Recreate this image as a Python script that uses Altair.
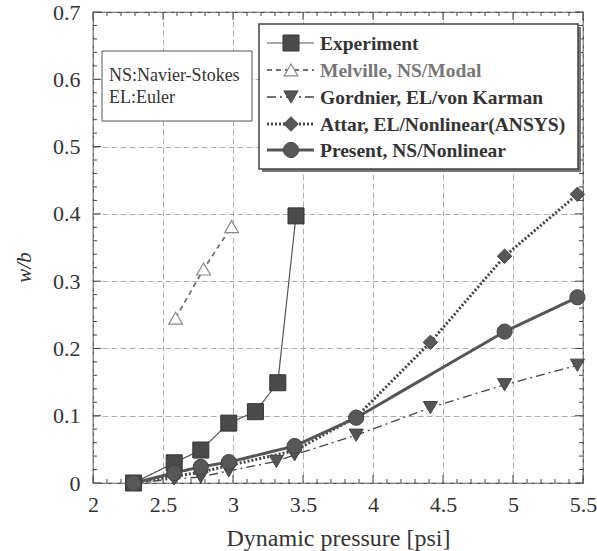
import altair as alt
import pandas as pd

# ---------------- data ----------------
series_names = ["Experiment", "Melville, NS/Modal", "Gordnier, EL/von Karman",
                "Attar, EL/Nonlinear(ANSYS)", "Present, NS/Nonlinear"]

exp_x = [2.29, 2.58, 2.77, 2.97, 3.16, 3.32, 3.45]
exp_y = [0.0, 0.030, 0.049, 0.089, 0.106, 0.149, 0.397]
mel_x = [2.59, 2.79, 2.99]
mel_y = [0.245, 0.318, 0.381]
gor_x = [2.29, 2.58, 2.77, 2.97, 3.31, 3.44, 3.88, 4.41, 4.94, 5.46]
gor_y = [0.0, 0.006, 0.009, 0.018, 0.032, 0.042, 0.071, 0.112, 0.146, 0.175]
att_x = [2.29, 2.58, 2.77, 2.97, 3.44, 3.88, 4.41, 4.94, 5.46]
att_y = [0.0, 0.010, 0.016, 0.026, 0.048, 0.098, 0.209, 0.337, 0.429]
pre_x = [2.29, 2.58, 2.77, 2.97, 3.44, 3.88, 4.94, 5.46]
pre_y = [0.0, 0.015, 0.024, 0.031, 0.055, 0.097, 0.225, 0.276]

x_major = [2, 2.5, 3, 3.5, 4, 4.5, 5, 5.5]
x_minor = [2.1, 2.2, 2.3, 2.4, 2.6, 2.7, 2.8, 2.9, 3.1, 3.2, 3.3, 3.4,
           3.6, 3.7, 3.8, 3.9, 4.1, 4.2, 4.3, 4.4, 4.6, 4.7, 4.8, 4.9,
           5.1, 5.2, 5.3, 5.4]
y_major = [0, 0.1, 0.2, 0.3, 0.4, 0.5, 0.6, 0.7]
y_minor = [0.02, 0.04, 0.06, 0.08, 0.12, 0.14, 0.16, 0.18, 0.22, 0.24, 0.26, 0.28,
           0.32, 0.34, 0.36, 0.38, 0.42, 0.44, 0.46, 0.48, 0.52, 0.54, 0.56, 0.58,
           0.62, 0.64, 0.66, 0.68]
note_lines = ["NS:Navier-Stokes", "EL:Euler"]

series_data = {
    series_names[0]: (exp_x, exp_y),
    series_names[1]: (mel_x, mel_y),
    series_names[2]: (gor_x, gor_y),
    series_names[3]: (att_x, att_y),
    series_names[4]: (pre_x, pre_y),
}

# ---------------- styles ----------------
W, H = 490, 471
FONT = "Liberation Serif"
styles = {
    series_names[0]: dict(line="#555555", lw=1.2, dash=[1, 0], shape="square", size=256,
                          fill="#4a4a4a", stroke="#333333", sw=1, tcol="#333333", tw="bold"),
    series_names[1]: dict(line="#707070", lw=1.8, dash=[5, 4], shape="triangle-up", size=190,
                          fill="#ffffff", stroke="#8a8a8a", sw=1.2, tcol="#777777", tw="bold"),
    series_names[2]: dict(line="#444444", lw=1.3, dash=[9, 4, 2, 4], shape="triangle-down", size=200,
                          fill="#555555", stroke="#444444", sw=1, tcol="#333333", tw="bold"),
    series_names[3]: dict(line="#444444", lw=3, dash=[2, 2], shape="diamond", size=210,
                          fill="#585858", stroke="#444444", sw=1, tcol="#333333", tw="bold"),
    series_names[4]: dict(line="#555555", lw=3, dash=[1, 0], shape="circle", size=230,
                          fill="#585858", stroke="#444444", sw=1, tcol="#333333", tw="bold"),
}

xs = alt.Scale(domain=[2, 5.5], nice=False, zero=False)
ys = alt.Scale(domain=[0, 0.7], nice=False, zero=False)

x_axis = alt.Axis(values=x_major, format="~g", title="Dynamic pressure [psi]", grid=True,
                  gridDash=[6, 3], gridColor="#9a9a9a", gridWidth=0.8, ticks=False, domain=False,
                  labelFont=FONT, labelFontSize=22, labelColor="#333333", labelPadding=11,
                  labelFlush=False, labelOverlap=False,
                  titleFont=FONT, titleFontSize=24, titleFontWeight="normal",
                  titleColor="#333333", titleBaseline="middle", titleY=55)
y_axis = alt.Axis(values=y_major, format="~g", title="w/b", grid=True,
                  gridDash=[6, 3], gridColor="#9a9a9a", gridWidth=0.8, ticks=False, domain=False,
                  labelFont=FONT, labelFontSize=22, labelColor="#333333", labelPadding=13,
                  labelFlush=False, labelOverlap=False,
                  titleFont=FONT, titleFontSize=21, titleFontWeight="normal",
                  titleFontStyle="italic", titleColor="#333333",
                  titleAngle=270, titleBaseline="middle", titleAlign="center",
                  titleX=-69, titleY=255)

X = alt.X("x:Q", scale=xs, axis=x_axis)
Y = alt.Y("y:Q", scale=ys, axis=y_axis)

rows = []
for name in series_names:
    xv, yv = series_data[name]
    for a, b in zip(xv, yv):
        rows.append({"series": name, "x": a, "y": b})
df = pd.DataFrame(rows)

layers = []

# tick marks (inside, on all four sides)
df_xmaj = pd.DataFrame({"x": x_major})
df_xmin = pd.DataFrame({"x": x_minor})
df_ymaj = pd.DataFrame({"y": y_major})
df_ymin = pd.DataFrame({"y": y_minor})
tc = "#444444"
for d, L in ((df_xmaj, 8), (df_xmin, 4)):
    layers.append(alt.Chart(d).mark_rule(color=tc, strokeWidth=1).encode(
        x=X, y=alt.value(H), y2=alt.value(H - L)))
    layers.append(alt.Chart(d).mark_rule(color=tc, strokeWidth=1).encode(
        x=X, y=alt.value(0), y2=alt.value(L)))
for d, L in ((df_ymaj, 8), (df_ymin, 4)):
    layers.append(alt.Chart(d).mark_rule(color=tc, strokeWidth=1).encode(
        y=Y, x=alt.value(0), x2=alt.value(L)))
    layers.append(alt.Chart(d).mark_rule(color=tc, strokeWidth=1).encode(
        y=Y, x=alt.value(W), x2=alt.value(W - L)))

# series lines
line_order = [series_names[1], series_names[2], series_names[3], series_names[0], series_names[4]]
for name in line_order:
    s = styles[name]
    layers.append(alt.Chart(df).transform_filter(alt.datum.series == name).mark_line(
        color=s["line"], strokeWidth=s["lw"], strokeDash=s["dash"]).encode(
        x=X, y=Y, order="x:Q"))
# series markers
point_order = [series_names[2], series_names[3], series_names[0], series_names[4], series_names[1]]
for name in point_order:
    s = styles[name]
    layers.append(alt.Chart(df).transform_filter(alt.datum.series == name).mark_point(
        shape=s["shape"], size=s["size"], filled=True, fill=s["fill"], stroke=s["stroke"],
        strokeWidth=s["sw"], opacity=1, fillOpacity=1).encode(x=X, y=Y))

# note box
one = pd.DataFrame({"k": [0]})
layers.append(alt.Chart(one).mark_rect(fill="white", stroke="#555555", strokeWidth=1).encode(
    x=alt.value(9), x2=alt.value(159), y=alt.value(39), y2=alt.value(109)))
for i, t in enumerate(note_lines):
    layers.append(alt.Chart(one).mark_text(text=t, font=FONT, fontSize=18, color="#333333",
                                           align="left", baseline="middle").encode(
        x=alt.value(16), y=alt.value(64 + 22 * i)))

# legend box with shadow
layers.append(alt.Chart(one).mark_rect(fill="#777777").encode(
    x=alt.value(169), x2=alt.value(488), y=alt.value(15), y2=alt.value(160)))
layers.append(alt.Chart(one).mark_rect(fill="white", stroke="#444444", strokeWidth=1.5).encode(
    x=alt.value(166), x2=alt.value(485), y=alt.value(12), y2=alt.value(157)))

leg_df = pd.DataFrame({"series": series_names})
row_y = [31, 58, 85, 112, 138]
for name, ry in zip(series_names, row_y):
    s = styles[name]
    sub = alt.Chart(leg_df).transform_filter(alt.datum.series == name)
    layers.append(sub.mark_rule(color=s["line"], strokeWidth=s["lw"], strokeDash=s["dash"]).encode(
        x=alt.value(174), x2=alt.value(221), y=alt.value(ry)))
    layers.append(sub.mark_point(shape=s["shape"], size=s["size"], filled=True, fill=s["fill"],
                                 stroke=s["stroke"], strokeWidth=s["sw"], opacity=1).encode(
        x=alt.value(198), y=alt.value(ry)))
    layers.append(sub.mark_text(font=FONT, fontSize=19.5, fontWeight=s["tw"], color=s["tcol"],
                                align="left", baseline="middle").encode(
        x=alt.value(227), y=alt.value(ry + 1), text="series:N"))

chart = alt.layer(*layers).properties(
    width=W, height=H,
    autosize=alt.AutoSizeParams(type="none"),
    padding={"left": 93, "top": 12, "right": 14, "bottom": 68},
    background="white",
).configure_view(stroke="#444444", strokeWidth=1.2)

chart.save("out.html", embed_options={"renderer": "svg", "actions": False})
